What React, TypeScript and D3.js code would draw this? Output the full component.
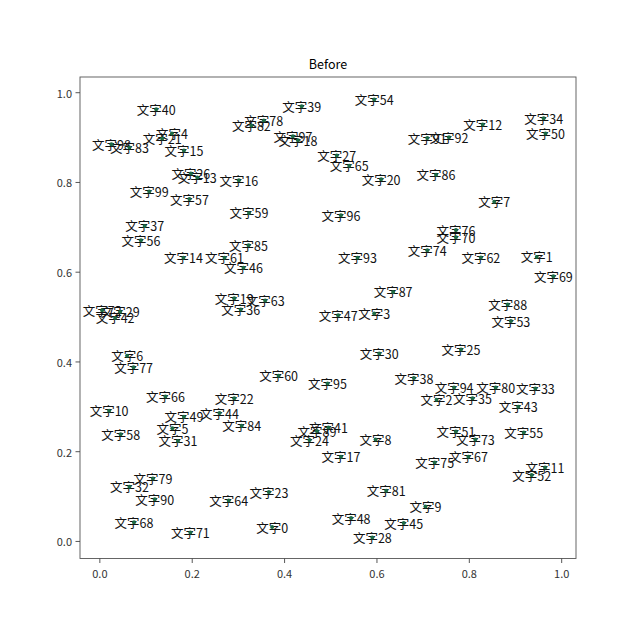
import * as d3 from "d3";

// point positions, index i is the label 文字i
const xValues = [
  0.373, 0.946, 0.729, 0.594, 0.156, 0.157, 0.059, 0.854, 0.597, 0.705,
  0.020, 0.964, 0.829, 0.211, 0.181, 0.182, 0.301, 0.522, 0.429, 0.291,
  0.609, 0.135, 0.291, 0.366, 0.454, 0.782, 0.197, 0.513, 0.590, 0.044,
  0.605, 0.169, 0.064, 0.943, 0.961, 0.807, 0.305, 0.097, 0.680, 0.437,
  0.122, 0.495, 0.033, 0.906, 0.259, 0.658, 0.311, 0.516, 0.544, 0.182,
  0.965, 0.771, 0.935, 0.890, 0.594, 0.918, 0.089, 0.194, 0.045, 0.323,
  0.387, 0.270, 0.825, 0.358, 0.279, 0.540, 0.142, 0.798, 0.074, 0.982,
  0.771, 0.196, 0.005, 0.813, 0.709, 0.725, 0.771, 0.073, 0.355, 0.115,
  0.857, 0.620, 0.328, 0.064, 0.307, 0.322, 0.728, 0.635, 0.883, 0.470,
  0.119, 0.709, 0.756, 0.558, 0.767, 0.493, 0.522, 0.418, 0.025, 0.107,
];
const yValues = [
  0.032, 0.634, 0.316, 0.508, 0.909, 0.252, 0.414, 0.757, 0.227, 0.078,
  0.291, 0.165, 0.929, 0.811, 0.632, 0.871, 0.805, 0.189, 0.894, 0.542,
  0.807, 0.898, 0.319, 0.110, 0.226, 0.428, 0.820, 0.860, 0.009, 0.512,
  0.419, 0.224, 0.122, 0.341, 0.943, 0.319, 0.517, 0.703, 0.364, 0.970,
  0.963, 0.254, 0.498, 0.300, 0.286, 0.041, 0.610, 0.504, 0.052, 0.278,
  0.909, 0.245, 0.148, 0.491, 0.985, 0.243, 0.671, 0.763, 0.239, 0.732,
  0.369, 0.632, 0.633, 0.537, 0.091, 0.837, 0.323, 0.189, 0.043, 0.591,
  0.678, 0.020, 0.515, 0.227, 0.649, 0.176, 0.694, 0.388, 0.938, 0.140,
  0.343, 0.113, 0.927, 0.878, 0.258, 0.660, 0.817, 0.556, 0.528, 0.246,
  0.094, 0.899, 0.901, 0.632, 0.343, 0.352, 0.727, 0.903, 0.885, 0.780,
];
const labels = xValues.map((_, i) => `文字${i}`);
const xTicks = [0, 0.2, 0.4, 0.6, 0.8, 1.0];
const yTicks = [0, 0.2, 0.4, 0.6, 0.8, 1.0];
const title = "Before";

const font = "'Noto Sans CJK SC', 'DejaVu Sans', sans-serif";

const App = () => {
  const width = 640;
  const height = 640;
  const left = 80;
  const right = 576;
  const top = 77;
  const bottom = 558.5;

  const x = d3.scaleLinear().domain([-0.043, 1.031]).range([left, right]);
  const y = d3.scaleLinear().domain([-0.038, 1.035]).range([bottom, top]);

  const points = labels.map((label, i) => ({ label, x: xValues[i], y: yValues[i] }));

  return (
    <svg
      width={width}
      height={height}
      style={{ position: "absolute", left: 0, top: 0, background: "#fff" }}
    >
      <text x={(left + right) / 2} y={69} textAnchor="middle" fontFamily={font} fontSize={12.5}>
        {title}
      </text>

      {/* labels */}
      {points.map((p) => (
        <text
          key={p.label}
          x={x(p.x)}
          y={y(p.y)}
          textAnchor="middle"
          dominantBaseline="central"
          fontFamily={font}
          fontSize={12.5}
          fill="#111"
        >
          {p.label}
        </text>
      ))}

      {/* markers */}
      {points.map((p) => (
        <circle key={"c" + p.label} cx={x(p.x)} cy={y(p.y)} r={2} fill="#1d6b45" />
      ))}

      <rect
        x={left}
        y={top}
        width={right - left}
        height={bottom - top}
        fill="none"
        stroke="#555"
        strokeWidth={0.9}
      />

      {xTicks.map((t) => (
        <g key={"x" + t} transform={`translate(${x(t)},${bottom})`}>
          <line y2={4.5} stroke="#444" strokeWidth={0.9} />
          <text y={14} textAnchor="middle" dominantBaseline="central" fontFamily={font} fontSize={11} fill="#333">
            {d3.format(".1f")(t)}
          </text>
        </g>
      ))}
      {yTicks.map((t) => (
        <g key={"y" + t} transform={`translate(${left},${y(t)})`}>
          <line x2={-4.5} stroke="#444" strokeWidth={0.9} />
          <text x={-8} textAnchor="end" dominantBaseline="central" fontFamily={font} fontSize={11} fill="#333">
            {d3.format(".1f")(t)}
          </text>
        </g>
      ))}
    </svg>
  );
};

export default App;
